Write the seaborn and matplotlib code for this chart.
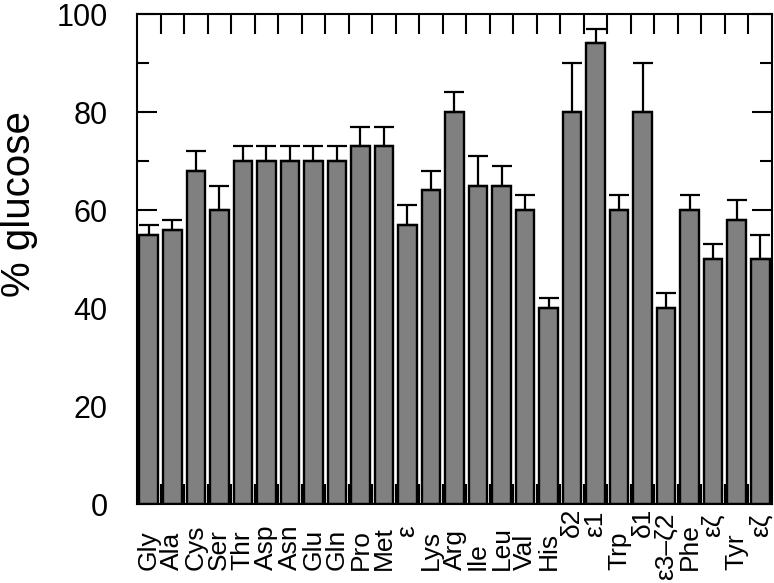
import numpy as np
import pandas as pd
import matplotlib
matplotlib.use("Agg")
import matplotlib.pyplot as plt
import matplotlib.transforms as mtransforms
from matplotlib.ticker import MultipleLocator
import seaborn as sns

# ---- data ----
labels = ["Gly", "Ala", "Cys", "Ser", "Thr", "Asp", "Asn", "Glu", "Gln", "Pro", "Met",
          "ε", "Lys", "Arg", "Ile", "Leu", "Val", "His",
          "δ2", "ε1", "Trp", "δ1", "ε3–ζ2", "Phe", "εζ", "Tyr", "εζ"]
is_atom = [False] * 11 + [True] + [False] * 6 + [True, True, False, True, True, False, True, False, True]
values = [55, 56, 68, 60, 70, 70, 70, 70, 70, 73, 73,
          57, 64, 80, 65, 65, 60, 40,
          80, 94, 60, 80, 40, 60, 50, 58, 50]
errors = [2, 2, 4, 5, 3, 3, 3, 3, 3, 4, 4,
          4, 4, 4, 6, 4, 3, 2,
          10, 3, 3, 10, 3, 3, 3, 4, 5]
y_label = "% glucose"

sns.set_style("ticks")
plt.rcParams["font.family"] = ["Liberation Sans", "DejaVu Sans"]
for k in ["text.color", "axes.labelcolor", "xtick.color", "ytick.color", "axes.edgecolor"]:
    plt.rcParams[k] = "black"

n = len(values)
df = pd.DataFrame({"pos": [str(i) for i in range(n)], "value": values})

fig = plt.figure(figsize=(7.74, 5.83), dpi=100)
ax = fig.add_axes([137 / 774, 79 / 583, 635 / 774, 490 / 583])

sns.barplot(data=df, x="pos", y="value", ax=ax, color="#808080", saturation=1,
            edgecolor="black", linewidth=1.7, width=0.79, errorbar=None, zorder=2)
ax.errorbar(np.arange(n), values, yerr=[np.zeros(n), errors], fmt="none",
            ecolor="black", elinewidth=1.6, capsize=7, capthick=1.6, zorder=3)

ax.set_xlim(-0.5, n - 0.5)
ax.set_ylim(0, 100)

# ticks at category boundaries, inward, top and bottom
ax.set_xticks(np.arange(n - 1) + 0.5)
ax.set_xticklabels([])
ax.tick_params(axis="x", which="major", direction="in", length=14.4, width=1.5,
               top=True, bottom=True, labelbottom=False)
ax.yaxis.set_major_locator(MultipleLocator(20))
ax.yaxis.set_minor_locator(MultipleLocator(10))
ax.tick_params(axis="y", which="major", direction="in", length=14.4, width=1.5,
               left=True, right=True, labelsize=22, pad=21)
ax.tick_params(axis="y", which="minor", direction="in", length=8.6, width=1.5,
               left=True, right=True)
for s in ax.spines.values():
    s.set_linewidth(1.5)
    s.set_visible(True)
    s.set_zorder(4)

ax.set_xlabel("")
ax.set_ylabel(y_label, fontsize=29)
ax.yaxis.label.set_va("center")
ax.yaxis.set_label_coords(-0.186, 0.612)

# category labels below the axis
base = mtransforms.blended_transform_factory(ax.transData, ax.transAxes)
for i, (lab, atom) in enumerate(zip(labels, is_atom)):
    if not atom:
        tr = mtransforms.offset_copy(base, fig=fig, x=0, y=-66, units="dots")
        ha = "left"
    elif len(lab) <= 3:
        tr = mtransforms.offset_copy(base, fig=fig, x=0, y=-33, units="dots")
        ha = "left"
    else:
        tr = mtransforms.offset_copy(base, fig=fig, x=0, y=-9, units="dots")
        ha = "right"
    ax.text(i, 0, lab, transform=tr, rotation=90, rotation_mode="anchor",
            ha=ha, va="center", fontsize=19, clip_on=False)

fig.savefig("out.png", dpi=100)
